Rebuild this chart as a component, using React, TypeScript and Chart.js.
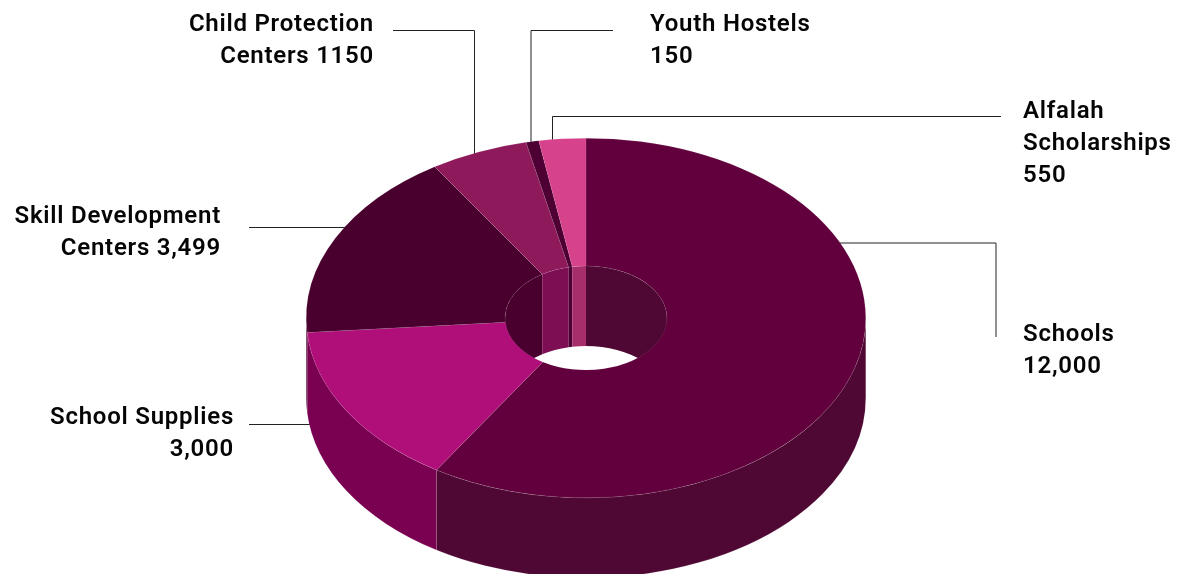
import React, { useEffect, useRef } from "react";
import { Chart, registerables } from "chart.js";

Chart.register(...registerables);

const categories = ["Schools", "School Supplies", "Skill Development Centers", "Child Protection Centers", "Youth Hostels", "Alfalah Scholarships"];
const values = [12000, 3000, 3499, 1150, 150, 550];
const topColors = ["#61003C", "#B00E78", "#4A002E", "#8E1A5C", "#4E0034", "#D6428B"];
const wallColors = ["#4F0833", "#7A0052", "#4A002E", "#7E0E54", "#4E0034", "#A62E6A"];

type Callout = { lines: string[]; x: number; y: number; align: CanvasTextAlign; path: [number, number][] };
const callouts: Callout[] = [
  { lines: ["Schools", "12,000"], x: 1023, y: 341, align: "left", path: [[838, 243], [996, 243], [996, 337]] },
  { lines: ["School Supplies", "3,000"], x: 234, y: 424, align: "right", path: [[249, 424.5], [312, 424.5]] },
  { lines: ["Skill Development", "Centers 3,499"], x: 221, y: 223, align: "right", path: [[249, 227.5], [346, 227.5]] },
  { lines: ["Child Protection", "Centers 1150"], x: 374, y: 31, align: "right", path: [[393, 30.5], [474.5, 30.5], [474.5, 155]] },
  { lines: ["Youth Hostels", "150"], x: 650, y: 31, align: "left", path: [[613, 30.5], [531, 30.5], [531, 145]] },
  { lines: ["Alfalah", "Scholarships", "550"], x: 1023, y: 118, align: "left", path: [[1001, 116.5], [552.5, 116.5], [552.5, 143]] },
];

const CENTER_Y = 318;
const SQUASH = 180 / 280;
const DEPTH = 80;
const LINE_GAP = 32;
const FONT = '600 24px Roboto';

const overlap = (a0: number, a1: number, lo: number, hi: number): [number, number][] => {
  const out: [number, number][] = [];
  for (const s of [-2 * Math.PI, 0, 2 * Math.PI]) {
    const st = Math.max(a0 + s, lo);
    const en = Math.min(a1 + s, hi);
    if (en > st) out.push([st, en]);
  }
  return out;
};

const wall = (ctx: CanvasRenderingContext2D, cx: number, r: number, st: number, en: number) => {
  ctx.beginPath();
  ctx.ellipse(cx, CENTER_Y, r, r * SQUASH, 0, st, en, false);
  ctx.ellipse(cx, CENTER_Y + DEPTH, r, r * SQUASH, 0, en, st, true);
  ctx.closePath();
};

const extrude = {
  id: "extrude",
  beforeDatasetsDraw(chart: any) {
    const ctx: CanvasRenderingContext2D = chart.ctx;
    const arcs = chart.getDatasetMeta(0).data;

    // leader lines sit behind the ring
    ctx.save();
    ctx.strokeStyle = "#222222";
    ctx.lineWidth = 1;
    for (const c of callouts) {
      ctx.beginPath();
      c.path.forEach(([x, y], i) => (i ? ctx.lineTo(x, y) : ctx.moveTo(x, y)));
      ctx.stroke();
    }
    ctx.restore();

    arcs.forEach((arc: any, i: number) => {
      const { startAngle, endAngle, outerRadius, innerRadius, x } = arc.getProps(["startAngle", "endAngle", "outerRadius", "innerRadius", "x"], true);
      ctx.fillStyle = wallColors[i];
      // outer wall: front half
      for (const [st, en] of overlap(startAngle, endAngle, 0, Math.PI)) {
        wall(ctx, x, outerRadius, st, en);
        ctx.fill();
        ctx.strokeStyle = "rgba(255,255,255,0.18)";
        ctx.lineWidth = 0.5;
        ctx.stroke();
      }
      // inner wall: back half of the hole
      for (const [st, en] of overlap(startAngle, endAngle, Math.PI, 2 * Math.PI)) {
        wall(ctx, x, innerRadius, st, en);
        ctx.fill();
      }
    });

    ctx.save();
    const cx = (chart.chartArea.left + chart.chartArea.right) / 2;
    const cy = (chart.chartArea.top + chart.chartArea.bottom) / 2;
    ctx.translate(cx, CENTER_Y);
    ctx.scale(1, SQUASH);
    ctx.translate(-cx, -cy);
  },
  afterDatasetsDraw(chart: any) {
    chart.ctx.restore();
  },
  afterDraw(chart: any) {
    const ctx: CanvasRenderingContext2D = chart.ctx;
    ctx.save();
    ctx.font = FONT;
    ctx.fillStyle = "#050505";
    ctx.textBaseline = "alphabetic";
    (ctx as any).letterSpacing = "0.75px";
    for (const c of callouts) {
      ctx.textAlign = c.align;
      c.lines.forEach((l, i) => ctx.fillText(l, c.x, c.y + i * LINE_GAP));
    }
    ctx.restore();
  },
};

export default function App() {
  const ref = useRef<HTMLCanvasElement>(null);
  useEffect(() => {
    const chart = new Chart(ref.current!, {
      type: "doughnut",
      data: {
        labels: categories,
        datasets: [
          {
            data: values,
            backgroundColor: topColors,
            borderColor: "rgba(255,255,255,0.2)",
            borderWidth: 0.5,
            clip: false,
          } as any,
        ],
      },
      options: {
        animation: false,
        responsive: false,
        cutout: "28.93%",
        layout: { padding: { top: 7, bottom: 7, left: 0, right: 14 } },
        plugins: { legend: { display: false }, tooltip: { enabled: false } },
      },
      plugins: [extrude],
    });
    return () => chart.destroy();
  }, []);
  return (
    <div style={{ position: "fixed", left: 0, top: 0, width: 1186, height: 574, overflow: "hidden", background: "#fff" }}>
      <canvas ref={ref} width={1186} height={574} style={{ display: "block" }} />
    </div>
  );
}
